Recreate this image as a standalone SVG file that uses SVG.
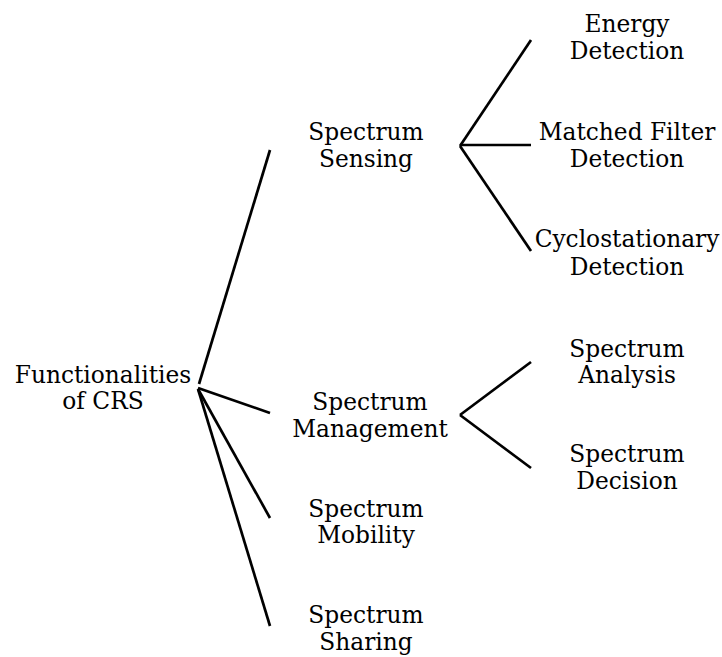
<svg xmlns="http://www.w3.org/2000/svg" width="722" height="657" viewBox="0 0 722 657">
<style>
text{font-family:"DejaVu Serif","Liberation Serif",serif;font-size:23.3px;fill:#000;text-anchor:middle}
.c line{stroke:#000;stroke-width:2.7;stroke-linecap:butt}
</style>
<rect width="722" height="657" fill="#fff"/>
<g class="c" id="connectors">
<line x1="199" y1="384" x2="270" y2="150"/>
<line x1="198" y1="388" x2="270" y2="413"/>
<line x1="198" y1="389" x2="270" y2="518"/>
<line x1="198" y1="389" x2="270" y2="626"/>
<line x1="460" y1="146" x2="531" y2="40"/>
<line x1="460" y1="145" x2="531" y2="145"/>
<line x1="460" y1="146" x2="531" y2="251"/>
<line x1="460" y1="415" x2="531" y2="362"/>
<line x1="460" y1="415" x2="531" y2="468"/>
</g>
<g id="root"><text x="103" y="383">Functionalities</text><text x="103" y="409">of CRS</text></g>
<g id="sensing"><text x="366" y="140">Spectrum</text><text x="366" y="167">Sensing</text></g>
<g id="management"><text x="370" y="410">Spectrum</text><text x="370" y="437">Management</text></g>
<g id="mobility"><text x="366" y="517">Spectrum</text><text x="366" y="543">Mobility</text></g>
<g id="sharing"><text x="366" y="623">Spectrum</text><text x="366" y="650">Sharing</text></g>
<g id="energy"><text x="627" y="32">Energy</text><text x="627" y="59">Detection</text></g>
<g id="matched"><text x="627" y="140">Matched Filter</text><text x="627" y="167">Detection</text></g>
<g id="cyclo"><text x="627" y="247">Cyclostationary</text><text x="627" y="275">Detection</text></g>
<g id="analysis"><text x="627" y="357">Spectrum</text><text x="627" y="383">Analysis</text></g>
<g id="decision"><text x="627" y="462">Spectrum</text><text x="627" y="489">Decision</text></g>
</svg>
